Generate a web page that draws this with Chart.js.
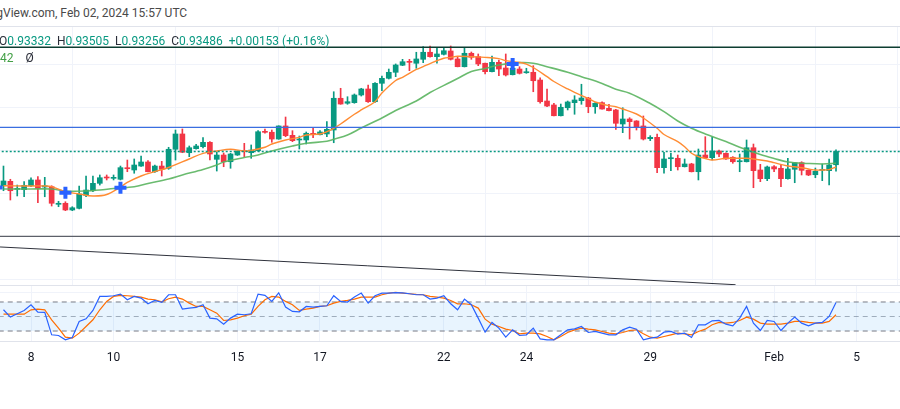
<!DOCTYPE html>
<html>
<head>
<meta charset="utf-8">
<script src="https://cdn.jsdelivr.net/npm/chart.js@4.4.1/dist/chart.umd.min.js"></script>
<style>
  html, body { margin: 0; padding: 0; background: #fff; }
  #wrap { position: relative; width: 900px; height: 409px; overflow: hidden; background: #fff;
          font-family: Roboto, "Liberation Sans", sans-serif; }
  #header { position: absolute; top: 0; left: 0; height: 27px; line-height: 27px; font-size: 12px;
            color: #4a4a4a; white-space: nowrap; }
  .sep { position: absolute; left: 0; width: 900px; height: 1px; background: #e0e3eb; z-index: 3; }
  #main { position: absolute; left: 0; top: 27px; }
  #stoch { position: absolute; left: 0; top: 285px; }
  .legend { position: absolute; left: 0; height: 14px; line-height: 14px; font-size: 12px;
            white-space: nowrap; z-index: 4; }
  .legend .k { color: #2a2e39; }
  .legend .v { color: #089981; margin-right: 6px; }
</style>
</head>
<body>
<div id="wrap">
  <div id="header">TradingView.com, Feb 02, 2024 15:57 UTC</div>
  <div class="sep" style="top:26px"></div>
  <canvas id="main" width="900" height="258"></canvas>
  <canvas id="stoch" width="900" height="124"></canvas>
  <div class="sep" style="top:285px"></div>
  <div class="legend" style="top:34px; left:-1px">
    <span class="k">O</span><span class="v">0.93332</span><span class="k">H</span><span class="v">0.93505</span><span class="k">L</span><span class="v">0.93256</span><span class="k">C</span><span class="v">0.93486</span><span class="v">+0.00153 (+0.16%)</span>
  </div>
  <div class="legend" style="top:51px">
    <span style="color:#43a047">42</span><span style="color:#2a2e39; margin-left:12px">Ø</span>
  </div>
</div>
<script>
// EURCHF 4h candles, Jan 5 - Feb 2 2024
const opens = [0.93088,0.93139,0.93046,0.93042,0.93088,0.93155,0.93073,0.93077,0.92872,0.92884,
  0.92806,0.92825,0.92977,0.93030,0.93116,0.93186,0.93174,0.93163,0.93294,0.93271,
  0.93317,0.93364,0.93251,0.93317,0.93291,0.93512,0.93690,0.93472,0.93519,0.93542,
  0.93593,0.93395,0.93445,0.93367,0.93445,0.93492,0.93472,0.93495,0.93716,0.93710,
  0.93631,0.93783,0.93674,0.93620,0.93620,0.93693,0.93681,0.93690,0.93736,0.94105,
  0.94047,0.94054,0.94143,0.94213,0.94065,0.94279,0.94337,0.94407,0.94489,0.94530,
  0.94512,0.94558,0.94640,0.94589,0.94616,0.94655,0.94562,0.94472,0.94628,0.94589,
  0.94512,0.94414,0.94523,0.94457,0.94379,0.94445,0.94402,0.94407,0.94317,0.94073,
  0.94027,0.93902,0.93995,0.94054,0.94077,0.94108,0.94007,0.94054,0.93988,0.93969,
  0.93806,0.93864,0.93841,0.93783,0.93635,0.93651,0.93298,0.93402,0.93407,0.93309,
  0.93341,0.93251,0.93445,0.93414,0.93492,0.93465,0.93419,0.93367,0.93367,0.93530,
  0.93271,0.93170,0.93309,0.93291,0.93170,0.93279,0.93356,0.93267,0.93216,0.93267,
  0.93263,0.93332];
const highs = [0.93317,0.93163,0.93096,0.93135,0.93181,0.93193,0.93186,0.93088,0.92907,0.92902,
  0.92844,0.93085,0.93201,0.93201,0.93213,0.93213,0.93213,0.93317,0.93387,0.93399,
  0.93434,0.93379,0.93329,0.93372,0.93535,0.93736,0.93748,0.93550,0.93570,0.93647,
  0.93600,0.93484,0.93469,0.93465,0.93495,0.93581,0.93562,0.93728,0.93748,0.93736,
  0.93785,0.93887,0.93728,0.93666,0.93713,0.93759,0.93728,0.93833,0.94181,0.94221,
  0.94123,0.94155,0.94221,0.94259,0.94286,0.94364,0.94445,0.94504,0.94558,0.94558,
  0.94640,0.94705,0.94713,0.94698,0.94686,0.94713,0.94582,0.94686,0.94643,0.94620,
  0.94515,0.94597,0.94550,0.94620,0.94484,0.94472,0.94454,0.94484,0.94344,0.94213,
  0.94047,0.94038,0.94073,0.94135,0.94268,0.94116,0.94054,0.94065,0.94035,0.93977,
  0.93995,0.93879,0.93845,0.93899,0.93670,0.93690,0.93477,0.93465,0.93445,0.93399,
  0.93349,0.93515,0.93658,0.93655,0.93503,0.93472,0.93426,0.93457,0.93620,0.93573,
  0.93337,0.93317,0.93321,0.93329,0.93407,0.93360,0.93367,0.93274,0.93294,0.93341,
  0.93399,0.93505];
const lows = [0.93030,0.92922,0.92969,0.92960,0.93077,0.92891,0.92960,0.92852,0.92844,0.92798,
  0.92798,0.92817,0.92960,0.93019,0.93096,0.93155,0.93155,0.93155,0.93251,0.93233,
  0.93312,0.93248,0.93244,0.93201,0.93279,0.93387,0.93472,0.93426,0.93512,0.93527,
  0.93387,0.93259,0.93309,0.93291,0.93440,0.93426,0.93407,0.93490,0.93698,0.93593,
  0.93628,0.93658,0.93600,0.93515,0.93573,0.93647,0.93678,0.93658,0.93588,0.94035,
  0.94035,0.94047,0.94131,0.94058,0.94058,0.94193,0.94329,0.94356,0.94484,0.94426,
  0.94454,0.94519,0.94582,0.94512,0.94608,0.94550,0.94470,0.94469,0.94558,0.94484,
  0.94387,0.94411,0.94368,0.94364,0.94376,0.94387,0.94395,0.94181,0.94047,0.94007,
  0.93899,0.93899,0.93969,0.93919,0.94035,0.93937,0.93930,0.93977,0.93957,0.93744,
  0.93705,0.93631,0.93736,0.93620,0.93612,0.93240,0.93233,0.93263,0.93271,0.93306,
  0.93248,0.93155,0.93407,0.93387,0.93426,0.93395,0.93349,0.93251,0.93364,0.93065,
  0.93135,0.93147,0.93251,0.93077,0.93163,0.93123,0.93213,0.93205,0.93181,0.93147,
  0.93096,0.93256];
const closes = [0.93143,0.93030,0.93058,0.93093,0.93155,0.93058,0.93088,0.92884,0.92884,0.92806,
  0.92832,0.92992,0.93038,0.93116,0.93181,0.93178,0.93181,0.93298,0.93286,0.93329,
  0.93364,0.93251,0.93317,0.93279,0.93512,0.93690,0.93477,0.93530,0.93550,0.93593,
  0.93457,0.93445,0.93367,0.93457,0.93492,0.93484,0.93503,0.93716,0.93709,0.93631,
  0.93783,0.93670,0.93612,0.93631,0.93698,0.93686,0.93713,0.93744,0.94105,0.94038,
  0.94065,0.94143,0.94213,0.94065,0.94279,0.94337,0.94407,0.94492,0.94530,0.94523,
  0.94562,0.94640,0.94589,0.94620,0.94658,0.94558,0.94472,0.94628,0.94582,0.94504,
  0.94414,0.94523,0.94445,0.94376,0.94454,0.94395,0.94411,0.94309,0.94065,0.94015,
  0.93902,0.94000,0.94062,0.94085,0.94108,0.94007,0.94047,0.93980,0.93961,0.93814,
  0.93864,0.93833,0.93767,0.93631,0.93651,0.93298,0.93399,0.93414,0.93309,0.93341,
  0.93251,0.93445,0.93414,0.93492,0.93457,0.93399,0.93367,0.93376,0.93530,0.93263,
  0.93170,0.93306,0.93283,0.93170,0.93283,0.93356,0.93267,0.93213,0.93256,0.93274,
  0.93329,0.93486];

// moving averages, read at the listed candles
const maFastIdx = [0,3,6,7,9,11,13,15,17,18,20,22,24,27,29,31,33,35,36,38,39,41,43,44,46,47,48,49,51,52,
  54,55,57,58,60,61,62,64,65,66,68,70,72,73,75,76,77,79,80,82,83,85,86,88,89,90,92,93,95,96,
  98,99,100,101,102,103,105,106,108,109,111,112,114,115,117,118,119,120,121];
const maFast = [0.93088,0.93085,0.93085,0.93077,0.93019,0.92992,0.92969,0.92986,0.93073,0.93126,
  0.93201,0.93253,0.93300,0.93399,0.93465,0.93492,0.93512,0.93492,0.93498,0.93535,
  0.93573,0.93620,0.93651,0.93678,0.93690,0.93716,0.93756,0.93806,0.93919,0.93969,
  0.94065,0.94166,0.94312,0.94349,0.94440,0.94472,0.94509,0.94570,0.94581,0.94594,
  0.94588,0.94581,0.94566,0.94542,0.94521,0.94503,0.94463,0.94356,0.94300,0.94213,
  0.94174,0.94102,0.94062,0.94019,0.94007,0.93980,0.93922,0.93876,0.93756,0.93684,
  0.93602,0.93542,0.93465,0.93426,0.93405,0.93387,0.93407,0.93407,0.93407,0.93399,
  0.93376,0.93356,0.93317,0.93309,0.93283,0.93271,0.93271,0.93275,0.93306];
const maSlowIdx = [0,4,7,9,12,14,16,19,21,24,26,29,31,32,35,37,39,42,44,47,48,50,52,55,57,60,62,65,66,68,
  70,72,75,77,79,82,84,87,89,91,94,96,98,100,102,105,107,110,112,114,117,119,121];
const maSlow = [0.93050,0.93050,0.93050,0.93027,0.93027,0.93038,0.93056,0.93077,0.93114,0.93166,
  0.93213,0.93277,0.93329,0.93364,0.93416,0.93445,0.93492,0.93550,0.93581,0.93605,
  0.93628,0.93678,0.93759,0.93876,0.93963,0.94073,0.94172,0.94294,0.94335,0.94416,
  0.94451,0.94492,0.94519,0.94512,0.94472,0.94408,0.94356,0.94277,0.94209,0.94163,
  0.94044,0.93949,0.93841,0.93756,0.93690,0.93602,0.93535,0.93451,0.93405,0.93364,
  0.93347,0.93341,0.93349];

// signal markers (blue crosses)
const markIdx = [-1, 9, 17, 74];
const markPrice = [0.93067, 0.93007, 0.93065, 0.94503];

// drawn levels
const levelPrices = [0.94698, 0.93767, 0.92500];
const trendIdx = [-0.5, 106.4];
const trendPrice = [0.92376, 0.91937];

// stochastic %K / %D
const stochK = [63.9,48.7,55.6,62.5,74.3,59.1,58.4,12.2,10.8,1.8,
  6.6,39.8,45.3,62.5,91.5,91.5,92.9,96.3,84.6,91.5,
  88.1,76.3,83.2,79.1,95,95,65.3,67.4,68.7,74.3,
  46.7,45.3,34.2,46.7,54.9,53.6,55.6,96.3,93.6,81.2,
  99,69.4,60.5,59.8,70.8,69.4,70.8,72.2,92.9,81.2,
  79.8,90.1,98.4,77.7,92.9,98.4,98.4,99.5,99,97,
  95,95,86,88,92.9,76.3,63.9,86,74.3,46.7,
  17.7,37.7,26,7.3,22.5,10.8,12.2,26,3.9,1.8,
  1.8,12.2,22.5,24.6,29.4,17,19.1,15.6,12.2,12.2,
  22.5,28,23.9,1.8,5.3,7.3,17.7,19.1,13.5,15.6,
  6.6,32.9,32.9,41.1,41.8,34.2,30.8,46.7,70.8,36.3,
  21.1,41.8,39.8,21.1,36.3,48.7,36.3,30.8,36.3,37.7,
  50.1,79.1];
const stochD = [54.9,54.9,54.9,54.9,63.9,65.3,63.9,43.2,26,7.3,
  5.3,15.6,29.4,43.2,63.9,81.2,91.5,93.6,92.9,91.5,
  90.1,86,84.6,80.5,86.7,90.1,86,77.7,70.8,70.8,
  63.9,57,41.8,43.2,46.7,51.5,54.9,70.8,84.6,91.5,
  90.1,81.2,74.3,62.5,65.3,67.4,70.8,72.2,77.7,81.2,
  83.2,86,90.1,90.1,90.1,95,98.4,99.8,98.4,97,
  95.6,95,91.5,90.1,88,83.2,76.3,76.3,74.3,67.4,
  44.6,34.2,29.4,23.9,21.1,14.2,15.6,15.6,14.2,8.7,
  1.8,8.7,17,22.5,26,23.9,22.5,19.1,15.6,14.2,
  17,21.1,22.5,14.2,7.3,5.3,8.7,12.2,15.6,14.2,
  12.2,19.1,23.9,32.9,37.7,36.3,37.7,41.8,48.7,44.6,
  36.3,34.2,34.2,34.2,36.3,39.8,39.8,37.7,36.3,36.3,
  39.8,53.6];
const stochLevels = [80, 50, 20];

// time axis
const tickIdx = [4, 16, 34, 46, 64, 76, 94, 112, 124];
const tickLabels = ['8', '10', '15', '17', '22', '24', '29', 'Feb', '5'];
const priceGrid = [0.920, 0.925, 0.930, 0.935, 0.940, 0.945];

const xMin = -0.506, xMax = 130.3;
const UP = '#089981', DOWN = '#f23645';
const FONT = 'Roboto, "Liberation Sans", sans-serif';

// header: keep "View.com" starting near the left edge like the crop
(function () {
  const c = document.createElement('canvas').getContext('2d');
  c.font = '12px ' + FONT;
  document.getElementById('header').style.left = (3 - c.measureText('Trading').width) + 'px';
})();

const idx = opens.map((_, i) => i);
const candleCol = idx.map(i => closes[i] >= opens[i] ? UP : DOWN);
const pts = (xs, ys) => xs.map((x, k) => ({ x: x, y: ys[k] }));
const flat = (v) => [{ x: -2, y: v }, { x: 132, y: v }];

function hline(v, color, width, dash, order) {
  return { type: 'line', data: flat(v), borderColor: color, borderWidth: width,
           borderDash: dash || [], pointRadius: 0, order: order };
}

new Chart(document.getElementById('main'), {
  type: 'bar',
  data: {
    datasets: [
      { type: 'line', data: pts(markIdx, markPrice), showLine: false, pointStyle: 'cross',
        pointRadius: 6, pointBorderWidth: 4, pointBorderColor: '#2962ff', clip: false, order: 0 },
      hline(levelPrices[0], '#0d3d31', 1.5, null, 1),
      hline(levelPrices[1], '#3a6ee0', 1.2, null, 1),
      hline(levelPrices[2], '#363a45', 1, null, 1),
      hline(closes[closes.length - 1], UP, 1.5, [2, 2], 1),
      { type: 'line', data: pts(trendIdx, trendPrice), borderColor: '#2f323c', borderWidth: 1,
        pointRadius: 0, order: 1 },
      { type: 'line', data: pts(maFastIdx, maFast), borderColor: '#ff8c33', borderWidth: 1.4,
        pointRadius: 0, tension: 0.35, order: 2 },
      { type: 'line', data: pts(maSlowIdx, maSlow), borderColor: 'rgba(90,180,95,0.9)', borderWidth: 1.6,
        pointRadius: 0, tension: 0.35, order: 2 },
      { data: idx.map(i => ({ x: i, y: [opens[i], closes[i]] })), backgroundColor: candleCol,
        barThickness: 5, minBarLength: 1, grouped: false, order: 3 },
      { data: idx.map(i => ({ x: i, y: [lows[i], highs[i]] })), backgroundColor: candleCol,
        barThickness: 1, grouped: false, order: 4 }
    ]
  },
  options: {
    responsive: false, animation: false, events: [],
    layout: { padding: 0, autoPadding: false },
    plugins: { legend: { display: false }, tooltip: { enabled: false } },
    scales: {
      x: {
        type: 'linear', min: xMin, max: xMax, offset: false,
        afterBuildTicks: s => { s.ticks = tickIdx.map(v => ({ value: v })); },
        afterFit: s => { s.height = 0; },
        ticks: { display: false },
        grid: { color: '#f0f3fa', drawTicks: false },
        border: { display: false }
      },
      y: {
        min: 0.919337, max: 0.949337,
        afterBuildTicks: s => { s.ticks = priceGrid.map(v => ({ value: v })); },
        afterFit: s => { s.width = 0; },
        ticks: { display: false },
        grid: { color: '#f0f3fa', drawTicks: false },
        border: { display: false }
      }
    }
  }
});

new Chart(document.getElementById('stoch'), {
  type: 'line',
  data: {
    datasets: [
      { data: flat(stochLevels[0]), borderColor: '#787b86', borderWidth: 1, borderDash: [5, 4],
        pointRadius: 0, fill: false, order: 3 },
      { data: flat(stochLevels[2]), borderColor: '#787b86', borderWidth: 1, borderDash: [5, 4],
        pointRadius: 0, fill: '-1', backgroundColor: 'rgba(33,150,243,0.1)', order: 3 },
      { data: flat(stochLevels[1]), borderColor: 'rgba(120,123,134,0.6)', borderWidth: 1,
        borderDash: [5, 4], pointRadius: 0, order: 3 },
      { data: pts(idx, stochD), borderColor: '#ff6d00', borderWidth: 1.2, pointRadius: 0, order: 1 },
      { data: pts(idx, stochK), borderColor: '#2962ff', borderWidth: 1.2, pointRadius: 0, order: 0 }
    ]
  },
  options: {
    responsive: false, animation: false, events: [],
    layout: { padding: 0, autoPadding: false },
    plugins: { legend: { display: false }, tooltip: { enabled: false } },
    scales: {
      x: {
        type: 'linear', min: xMin, max: xMax, offset: false,
        afterBuildTicks: s => { s.ticks = tickIdx.map(v => ({ value: v })); },
        afterFit: s => { s.height = 68; },
        ticks: {
          autoSkip: false, maxRotation: 0, padding: 10, color: '#131722',
          font: { family: FONT, size: 12 },
          callback: (v, k) => tickLabels[k]
        },
        grid: { color: '#f0f3fa', drawTicks: false },
        border: { display: true, color: '#e0e3eb' }
      },
      y: {
        min: -0.6, max: 115.1,
        afterBuildTicks: s => { s.ticks = [{ value: 100 }]; },
        afterFit: s => { s.width = 0; },
        ticks: { display: false },
        grid: { color: '#f0f3fa', drawTicks: false },
        border: { display: false }
      }
    }
  }
});
</script>
</body>
</html>
